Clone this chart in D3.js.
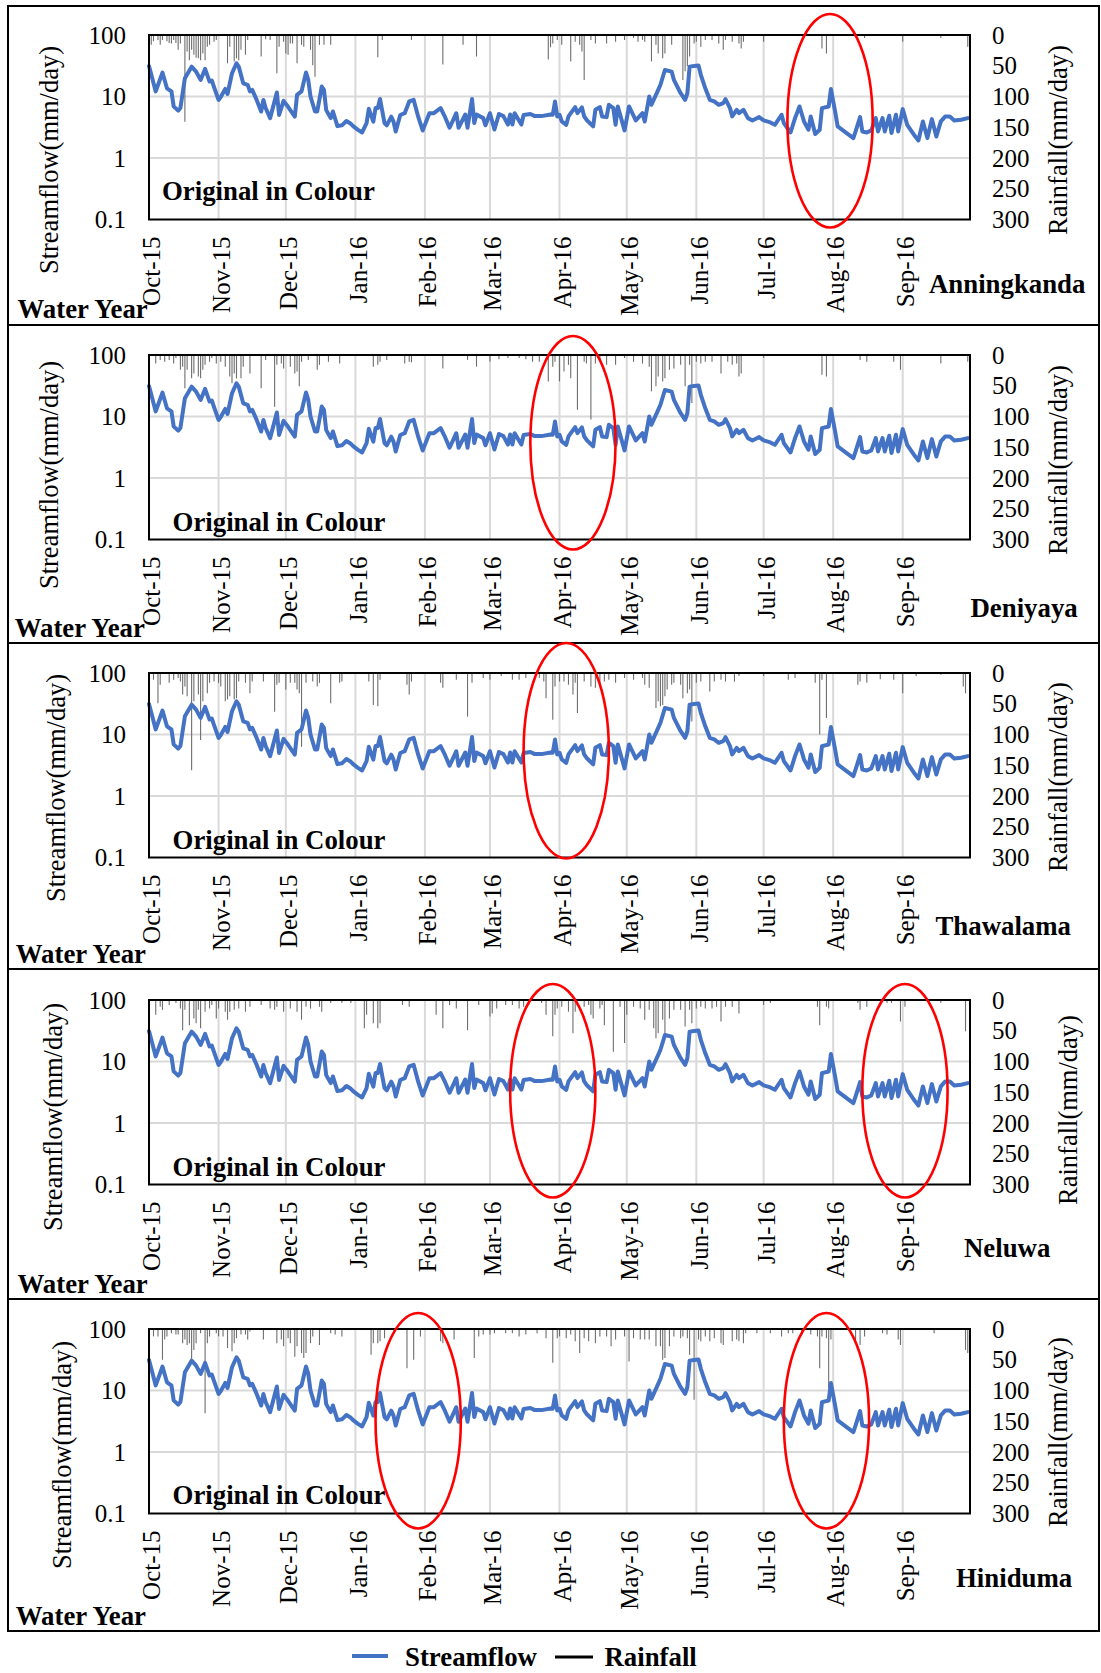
<!DOCTYPE html>
<html>
<head>
<meta charset="utf-8">
<script src="https://cdn.jsdelivr.net/npm/d3@7"></script>
<style>
  body { margin: 0; background: #fff; }
  svg { display: block; font-family: "Liberation Serif", "Times New Roman", serif; }
</style>
</head>
<body>
<svg id="chart" width="1101" height="1673"></svg>
<script>
// ---- Data: water year Oct-2015 .. Sep-2016, days counted from 1 Oct 2015 ----
const stations = ["Anningkanda", "Deniyaya", "Thawalama", "Neluwa", "Hiniduma"];

// Observed streamflow (mm/day) as [day, value]
const streamflow = [
[0,31.4],[3,12.1],[6,24.5],[8,13.6],[10,12.1],[11,6.9],[13,5.9],[14,6.5],[16,19.8],[19,30.6],[21,25.4],[23,18.6],[25,28.1],[27,17.5],[28,18.2],[29,14.2],[31,8.8],[32,9.8],[34,13.3],[35,11.0],[37,23.9],[39,34.7],[40,30.6],[42,16.4],[44,15.5],[45,12.1],[46,12.8],[48,8.8],[50,5.7],[51,8.8],[52,6.5],[54,4.45],[57,11.6],[58,5.0],[60,8.5],[62,6.8],[65,4.7],[66,10.6],[68,12.1],[70,24.5],[71,18.6],[72,10],[74,5.7],[75,5.7],[77,14.5],[78,12.8],[79,6.0],[81,4.45],[82,5.7],[84,3.3],[86,3.4],[88,4.0],[90,3.6],[91,3.3],[93,2.9],[95,2.6],[97,3.7],[98,6.3],[100,3.9],[101,6.5],[102,6.5],[103,9.1],[105,3.7],[106,3.4],[108,4.7],[109,3.9],[110,2.7],[112,5.0],[114,5.35],[116,8.3],[118,8.8],[120,4.7],[122,2.8],[125,5.35],[127,5.35],[130,6.5],[132,4.6],[134,3.1],[137,5.35],[138,3.1],[141,5.1],[142,3.1],[144,9.1],[145,3.7],[146,5.1],[149,4.45],[150,3.4],[152,5.35],[154,2.9],[156,5.2],[158,4.8],[160,3.5],[161,5.1],[162,3.5],[163,5.35],[166,3.5],[167,5.0],[170,5.2],[172,4.8],[175,4.8],[179,5.1],
[180,5.05],[181,8.3],[182,4.74],[183,5.05],[184,3.93],[186,3.47],[187,4.74],[190,6.72],[191,5.37],[193,6.64],[194,4.74],[195,4.19],[198,3.26],[199,6.08],[201,6.72],[202,4.74],[204,4.62],[205,7.33],[207,6.47],[208,3.47],[209,6.89],[212,2.81],[214,6.89],[217,4.08],[220,5.37],[221,3.93],[223,10],[224,7.33],[227,12.8],[228,15.5],[230,27],[233,25.4],[234,18.6],[237,11.3],[239,8.83],[240,11.3],[241,30.6],[243,31.4],[245,31.8],[246,22.5],[248,13.6],[250,8.83],[252,8.3],[254,7.33],[256,7.8],[257,9.06],[259,6.47],[260,4.74],[262,6.08],[263,5.37],[265,6.08],[267,4.45],[269,4.08],[272,4.62],[274,4.08],[277,3.79],[279,3.47],[282,5.05],[283,3.7],[286,2.6],[288,4.45],[290,6.89],[292,3.93],[294,2.88],[295,4.74],[297,2.45],[299,2.88],[300,6.47],[303,6.89],[304,13.2],[306,5.37],[307,3.26],[311,2.54],[314,2.11],[315,2.7],[317,4.62],[318,2.7],[320,2.6],[322,2.81],[324,4.45],[325,2.7],[327,4.45],[328,2.7],[330,4.86],[331,2.54],[333,5.05],[334,2.7],[336,6.24],[338,3.47],[341,2.39],[343,1.93],[345,3.93],[347,2.11],[349,4.29],[351,2.24],[353,3.93],[355,4.74],[357,4.74],[359,4.08],[362,4.19],[365,4.45]
];

// Daily rainfall (mm/day) per station as [day, value]
const rainAnningkanda = [[1,16],[2,10],[4,8],[5,16],[6,8],[8,10],[9,13],[10,14],[11,8],[12,13],[13,24],[14,14],[16,141],[17,27],[18,41],[19,24],[20,32],[21,37],[22,38],[23,41],[24,30],[25,41],[26,19],[27,16],[29,11],[30,8],[35,46],[36,19],[38,43],[39,38],[40,41],[41,24],[43,32],[44,8],[50,35],[52,7],[54,8],[57,62],[58,19],[60,11],[61,30],[62,32],[63,14],[64,14],[66,46],[68,16],[69,19],[72,24],[73,49],[74,68],[76,16],[78,16],[81,16],[102,36],[104,8],[117,8],[131,48],[140,16],[146,35],[178,40],[179,20],[180,14],[182,8],[184,16],[188,43],[190,11],[192,16],[193,27],[194,73],[197,8],[199,14],[204,14],[208,11],[212,8],[216,5],[218,11],[220,8],[221,11],[224,43],[226,16],[227,30],[229,38],[230,30],[233,16],[238,73],[239,59],[240,51],[241,35],[243,14],[244,11],[246,19],[248,8],[251,8],[254,14],[256,24],[257,8],[260,11],[263,14],[264,22],[265,11],[274,11],[300,22],[302,30],[319,5],[336,11],[353,5],[365,19]];

const rainDeniyaya = [[3,14],[5,8],[7,11],[9,8],[11,14],[12,5],[14,24],[15,19],[16,54],[17,24],[19,38],[20,30],[22,35],[23,38],[24,24],[25,16],[27,11],[28,5],[30,14],[32,11],[34,19],[36,35],[37,46],[38,30],[39,38],[41,38],[42,19],[45,30],[50,54],[52,8],[56,84],[57,16],[59,14],[60,22],[63,19],[65,30],[66,27],[67,51],[68,11],[71,8],[75,24],[76,16],[80,11],[85,14],[100,19],[102,16],[103,11],[106,8],[114,14],[116,11],[117,12],[131,22],[142,8],[146,19],[152,11],[156,7],[160,5],[165,5],[168,7],[171,11],[174,11],[178,43],[180,19],[181,11],[183,43],[185,27],[187,16],[188,38],[191,89],[194,11],[195,14],[197,105],[199,14],[201,8],[204,16],[208,16],[212,5],[216,11],[220,14],[223,19],[224,59],[226,51],[227,35],[229,43],[230,38],[232,24],[234,22],[237,16],[239,51],[241,16],[242,78],[244,11],[246,14],[248,11],[251,11],[255,30],[258,11],[260,16],[262,14],[263,35],[264,30],[274,5],[300,32],[302,35],[317,8],[320,11],[332,11],[335,24],[353,14],[365,11]];

const rainThawalama = [[2,11],[4,49],[5,19],[9,16],[11,11],[13,8],[14,14],[15,35],[16,22],[17,38],[19,158],[20,46],[22,35],[23,109],[24,46],[26,33],[27,16],[29,14],[31,16],[32,22],[34,46],[35,43],[36,38],[38,43],[39,41],[40,14],[43,16],[45,33],[46,14],[51,14],[56,63],[57,19],[58,16],[61,27],[63,16],[65,16],[66,27],[67,33],[68,120],[70,16],[73,14],[75,22],[76,16],[81,49],[85,16],[86,14],[98,14],[100,52],[102,54],[103,11],[115,19],[116,35],[117,14],[130,16],[131,24],[137,11],[142,71],[144,16],[149,8],[152,11],[157,5],[162,11],[165,11],[168,8],[174,8],[176,14],[177,41],[180,76],[181,22],[183,14],[185,14],[187,19],[189,35],[190,16],[191,65],[194,14],[197,22],[199,24],[201,16],[203,14],[205,11],[208,16],[212,8],[216,11],[220,8],[221,19],[223,24],[226,57],[227,46],[228,54],[229,52],[230,38],[231,27],[233,19],[234,16],[237,19],[238,41],[240,33],[241,27],[242,79],[244,16],[246,14],[250,30],[252,14],[255,11],[257,14],[261,14],[263,5],[274,5],[285,11],[288,8],[297,16],[299,100],[300,11],[302,73],[316,19],[317,14],[320,16],[326,10],[332,11],[336,33],[342,5],[353,3],[363,22],[364,33]];

const rainNeluwa = [[3,24],[5,11],[6,16],[9,8],[12,5],[14,14],[15,49],[16,16],[18,41],[20,30],[21,38],[22,16],[23,46],[25,19],[27,14],[28,8],[30,30],[31,14],[34,19],[35,32],[36,19],[38,16],[40,14],[43,19],[45,11],[50,8],[54,14],[56,16],[57,11],[60,19],[63,14],[66,19],[68,32],[70,11],[72,14],[76,11],[77,19],[81,5],[86,5],[90,5],[96,46],[97,24],[100,38],[102,46],[103,38],[113,8],[116,11],[128,24],[131,46],[134,8],[137,14],[142,49],[147,8],[152,27],[153,22],[155,14],[159,8],[162,8],[165,14],[167,11],[175,5],[177,24],[180,59],[181,24],[182,14],[184,11],[187,19],[189,54],[190,19],[194,11],[196,8],[197,24],[198,30],[201,14],[202,8],[203,41],[207,84],[210,11],[212,70],[213,24],[216,11],[219,14],[221,32],[223,16],[225,46],[226,62],[227,54],[229,32],[230,54],[232,30],[234,16],[237,16],[239,43],[241,16],[242,38],[244,14],[246,11],[248,14],[251,14],[253,11],[255,35],[257,11],[260,11],[263,22],[274,8],[277,5],[298,11],[299,41],[302,11],[303,14],[316,5],[317,16],[320,11],[329,5],[331,5],[335,35],[337,11],[353,5],[364,51]];

const rainHiniduma = [[2,12],[4,12],[6,50],[7,17],[8,12],[10,7],[12,9],[13,9],[15,23],[16,17],[17,26],[18,23],[19,50],[20,34],[21,23],[23,7],[25,137],[26,23],[27,12],[30,7],[31,12],[33,12],[35,31],[37,36],[38,23],[39,15],[41,9],[43,9],[44,17],[45,4],[51,17],[57,23],[59,17],[60,28],[62,15],[63,23],[65,45],[66,28],[68,39],[69,47],[70,39],[72,23],[73,12],[76,26],[81,7],[83,9],[86,12],[99,42],[100,23],[102,23],[103,20],[105,15],[115,64],[118,50],[121,12],[130,20],[131,23],[136,17],[145,47],[147,12],[149,9],[152,9],[154,7],[159,7],[162,7],[165,12],[168,9],[173,7],[177,15],[180,55],[182,15],[183,12],[186,15],[188,9],[190,20],[192,39],[194,15],[196,20],[199,23],[201,12],[204,12],[206,28],[208,17],[212,12],[214,53],[216,15],[219,17],[221,17],[223,17],[226,28],[228,28],[229,50],[230,47],[232,28],[234,12],[237,15],[238,12],[240,15],[241,42],[243,115],[245,17],[246,20],[248,12],[250,20],[252,15],[255,23],[256,26],[260,20],[262,17],[263,20],[265,23],[266,7],[271,7],[277,7],[282,12],[285,7],[287,7],[291,9],[295,9],[298,12],[299,64],[300,12],[302,15],[303,96],[304,17],[315,20],[317,26],[319,12],[327,7],[329,9],[334,17],[335,26],[350,7],[364,34],[365,39]];

const rainByStation = [rainAnningkanda, rainDeniyaya, rainThawalama, rainNeluwa, rainHiniduma];

// Highlighted periods per station (centre day of each ring)
const highlights = [[303.6], [189], [186], [180, 337], [120, 302]];

// Axis tick labels
const flowTicks = [0.1, 1, 10, 100];
const rainTicks = [0, 50, 100, 150, 200, 250, 300];

// ---- Layout ----
const layout = [
  { top: 35,   frame: [6, 325],     water: [17.5, 318],  name: [929, 293],   orig: [162, 200],   titleL: [49, 160],  titleR: [1058, 140],  ring: [-21, 8] },
  { top: 355,  frame: [325, 643],   water: [14.7, 637],  name: [970.5, 617], orig: [172.6, 531], titleL: [49, 475],  titleR: [1058, 460],  ring: [-19, 10] },
  { top: 673,  frame: [643, 969],   water: [15.8, 963],  name: [935.5, 935], orig: [172.6, 849], titleL: [56, 788],  titleR: [1058, 777],  ring: [-30, 1] },
  { top: 1000, frame: [969, 1299],  water: [17.5, 1293], name: [964, 1257],  orig: [172.6, 1176],titleL: [53, 1117], titleR: [1068, 1110], ring: [-16, 13] },
  { top: 1329, frame: [1299, 1631], water: [15.8, 1625], name: [956, 1587],  orig: [172.6, 1504],titleL: [62, 1455], titleR: [1058, 1432], ring: [-16, 15] }
];
const PH = 184.5, X0 = 149, X1 = 970;
const FLOW_COLOR = "#4472C4";
const GRID = "#d9d9d9";
const BOLD_SIZE = 26.8, TITLE_SIZE = 26.5, TICK_SIZE = 25;

const svg = d3.select("#chart");
const start = new Date(2015, 9, 1), end = new Date(2016, 9, 1);
const x = d3.scaleTime().domain([start, end]).range([X0, X1]);
const dayDate = d => d3.timeDay.offset(start, Math.floor(d));
const xDay = d => x(dayDate(d)) + (d - Math.floor(d)) * (x(dayDate(1)) - x(dayDate(0)));
const months = d3.timeMonth.range(start, end);

stations.forEach((name, i) => {
  const L = layout[i];
  const g = svg.append("g");
  const yF = d3.scaleLog().domain([0.1, 100]).range([L.top + PH, L.top]);
  const yR = d3.scaleLinear().domain([0, 300]).range([L.top, L.top + PH]);

  // panel border
  g.append("rect").attr("x", 8).attr("y", L.frame[0])
    .attr("width", 1091).attr("height", L.frame[1] - L.frame[0])
    .attr("fill", "none").attr("stroke", "#000").attr("stroke-width", 2);

  // gridlines
  g.append("g").selectAll("line").data(months.slice(1)).join("line")
    .attr("x1", d => x(d)).attr("x2", d => x(d))
    .attr("y1", L.top).attr("y2", L.top + PH)
    .attr("stroke", GRID).attr("stroke-width", 2);
  g.append("g").selectAll("line").data([1, 10]).join("line")
    .attr("x1", X0).attr("x2", X1)
    .attr("y1", d => yF(d)).attr("y2", d => yF(d))
    .attr("stroke", GRID).attr("stroke-width", 2);

  // rainfall bars hanging from the top
  g.append("g").selectAll("line").data(rainByStation[i]).join("line")
    .attr("x1", d => x(dayDate(d[0]))).attr("x2", d => x(dayDate(d[0])))
    .attr("y1", yR(0)).attr("y2", d => yR(d[1]))
    .attr("stroke", "#6e6e6e").attr("stroke-width", 1.1);

  // streamflow line
  const line = d3.line().x(d => x(dayDate(d[0]))).y(d => yF(d[1]));
  g.append("path").datum(streamflow).attr("d", line)
    .attr("fill", "none").attr("stroke", FLOW_COLOR)
    .attr("stroke-width", 4).attr("stroke-linejoin", "round").attr("stroke-linecap", "round");

  // plot frame
  g.append("rect").attr("x", X0).attr("y", L.top).attr("width", X1 - X0).attr("height", PH)
    .attr("fill", "none").attr("stroke", "#000").attr("stroke-width", 2);

  // axes
  const ax = g.append("g").attr("transform", `translate(0,${L.top + PH})`)
    .call(d3.axisBottom(x).tickValues(months).tickFormat(d3.timeFormat("%b-%y")).tickSize(0));
  ax.select(".domain").remove();
  ax.selectAll("text")
    .attr("transform", "rotate(-90)").attr("x", -17).attr("y", 0).attr("dy", "0.43em")
    .style("text-anchor", "end");
  const axL = g.append("g").attr("transform", `translate(${X0},0)`)
    .call(d3.axisLeft(yF).tickValues(flowTicks).tickFormat(d3.format("~g")).tickSize(0).tickPadding(23));
  axL.select(".domain").remove();
  const axR = g.append("g").attr("transform", `translate(${X1},0)`)
    .call(d3.axisRight(yR).tickValues(rainTicks).tickSize(0).tickPadding(22));
  axR.select(".domain").remove();
  [ax, axL, axR].forEach(a => a.attr("font-family", null).attr("font-size", TICK_SIZE)
    .selectAll("text").attr("fill", "#000"));

  // axis titles
  g.append("text").attr("transform", `translate(${L.titleL[0]},${L.titleL[1]}) rotate(-90)`)
    .attr("text-anchor", "middle").attr("dy", "0.35em").attr("font-size", TITLE_SIZE)
    .text("Streamflow(mm/day)");
  g.append("text").attr("transform", `translate(${L.titleR[0]},${L.titleR[1]}) rotate(-90)`)
    .attr("text-anchor", "middle").attr("dy", "0.35em").attr("font-size", TITLE_SIZE)
    .text("Rainfall(mm/day)");

  // labels
  g.append("text").attr("x", L.orig[0]).attr("y", L.orig[1])
    .attr("font-size", BOLD_SIZE).attr("font-weight", "bold").text("Original in Colour");
  g.append("text").attr("x", L.water[0]).attr("y", L.water[1])
    .attr("font-size", BOLD_SIZE).attr("font-weight", "bold").text("Water Year");
  g.append("text").attr("x", L.name[0]).attr("y", L.name[1])
    .attr("font-size", BOLD_SIZE).attr("font-weight", "bold").text(name);

  // highlight rings
  const y0 = L.top + L.ring[0], y1 = L.top + PH + L.ring[1];
  g.append("g").selectAll("ellipse").data(highlights[i]).join("ellipse")
    .attr("cx", d => xDay(d))
    .attr("rx", d => xDay(d + 19) - xDay(d))
    .attr("cy", (y0 + y1) / 2).attr("ry", (y1 - y0) / 2)
    .attr("fill", "none").attr("stroke", "#ff0000").attr("stroke-width", 2.6);
});

// legend
const lg = svg.append("g").attr("font-size", BOLD_SIZE).attr("font-weight", "bold");
lg.append("line").attr("x1", 352).attr("x2", 388).attr("y1", 1656).attr("y2", 1656)
  .attr("stroke", FLOW_COLOR).attr("stroke-width", 4);
lg.append("text").attr("x", 405).attr("y", 1666).text("Streamflow");
lg.append("line").attr("x1", 555).attr("x2", 593).attr("y1", 1657).attr("y2", 1657)
  .attr("stroke", "#000").attr("stroke-width", 3);
lg.append("text").attr("x", 604.5).attr("y", 1666).text("Rainfall");
</script>
</body>
</html>
